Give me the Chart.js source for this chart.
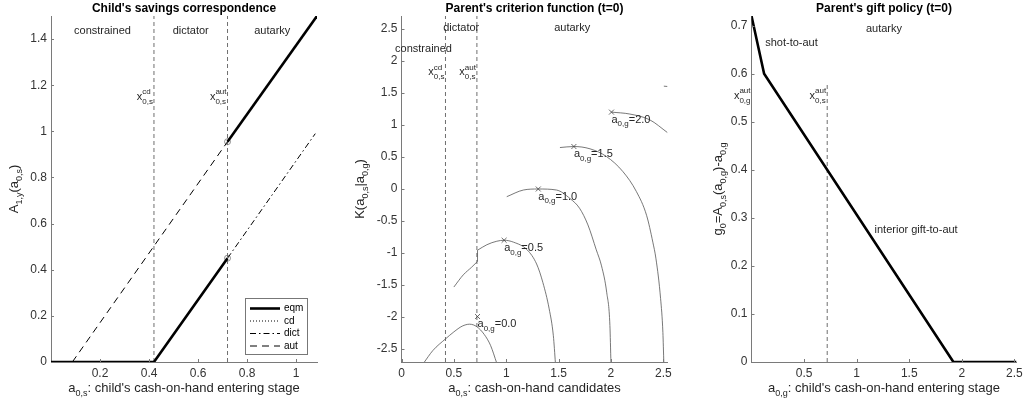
<!DOCTYPE html>
<html>
<head>
<meta charset="utf-8">
<script src="https://cdn.jsdelivr.net/npm/chart.js@4.4.0/dist/chart.umd.min.js"></script>
<style>
  html, body { margin: 0; padding: 0; background: #fff; }
  #wrap { position: relative; width: 1024px; height: 404px; overflow: hidden; }
  .panel { position: absolute; top: 0; height: 404px; }
</style>
</head>
<body>
<div id="wrap">
  <div class="panel" style="left:0;width:340px"><canvas id="c1" width="340" height="404"></canvas></div>
  <div class="panel" style="left:340px;width:340px"><canvas id="c2" width="340" height="404"></canvas></div>
  <div class="panel" style="left:680px;width:344px"><canvas id="c3" width="344" height="404"></canvas></div>
</div>
<script>
// ---------- data: child's savings correspondence ----------
const cutCd = 0.42;    // x^cd_{0,s}
const cutAut = 0.72;   // x^aut_{0,s}
const csEqmLowX = [0, 0.42, 0.72];
const csEqmLowY = [0, 0, 0.45];
const csEqmHighX = [0.72, 1.085];
const csEqmHighY = [0.955, 1.5];
const csCdX = [0, 0.42];
const csCdY = [0, 0];
const csDictX = [0.72, 1.078];
const csDictY = [0.45, 0.99];
const csAutX = [0.087, 0.72];
const csAutY = [0, 0.955];
const csCircX = [0.72, 0.72];
const csCircY = [0.45, 0.955];
const csXTicks = [0.2, 0.4, 0.6, 0.8, 1];
const csYTicks = [0, 0.2, 0.4, 0.6, 0.8, 1, 1.2, 1.4];

// ---------- data: parent's criterion function ----------
const k00X = [0.21, 0.30, 0.42, 0.50, 0.58, 0.65, 0.72, 0.79, 0.85, 0.91];
const k00Y = [-2.72, -2.52, -2.34, -2.23, -2.14, -2.11, -2.15, -2.27, -2.44, -2.72];
const k05aX = [0.50, 0.59, 0.67, 0.726];
const k05aY = [-1.53, -1.34, -1.22, -1.13];
const k05jX = [0.726, 0.726];
const k05jY = [-1.13, -0.955];
const k05bX = [0.726, 0.815, 0.91, 0.98, 1.07, 1.20, 1.29, 1.35, 1.41, 1.45, 1.47];
const k05bY = [-0.955, -0.87, -0.815, -0.80, -0.83, -0.95, -1.17, -1.46, -1.87, -2.29, -2.72];
const k10X = [1.005, 1.164, 1.306, 1.48, 1.61, 1.70, 1.78, 1.86, 1.91, 1.96, 1.99, 2.0];
const k10Y = [-0.12, -0.016, 0.0, -0.016, -0.15, -0.30, -0.56, -0.95, -1.20, -1.62, -2.13, -2.72];
const k15X = [1.513, 1.646, 1.80, 1.957, 2.115, 2.243, 2.34, 2.40, 2.43, 2.474, 2.496, 2.505];
const k15Y = [0.647, 0.663, 0.627, 0.507, 0.27, -0.04, -0.41, -0.83, -1.09, -1.71, -2.24, -2.72];
const k20X = [2.005, 2.18, 2.37, 2.54];
const k20Y = [1.20, 1.17, 1.08, 0.88];
const k25X = [2.505, 2.54];
const k25Y = [1.605, 1.60];
const kPeakX = [0.726, 0.98, 1.306, 1.646, 2.005];
const kPeakY = [-1.99, -0.80, 0.0, 0.663, 1.20];
const kPeakLabels = ['0.0', '0.5', '1.0', '1.5', '2.0'];
const kXTicks = [0, 0.5, 1, 1.5, 2, 2.5];
const kYTicks = [-2.5, -2, -1.5, -1, -0.5, 0, 0.5, 1, 1.5, 2, 2.5];

// ---------- data: parent's gift policy ----------
const giftX = [0, 0.12, 1.92, 2.52];
const giftY = [0.72, 0.6, 0, 0];
const giftCutX = [0.72, 0.72];
const giftCutY = [0, 0.577];
const gXTicks = [0.5, 1, 1.5, 2, 2.5];
const gYTicks = [0, 0.1, 0.2, 0.3, 0.4, 0.5, 0.6, 0.7];

// ---------- helpers ----------
const FONT = '"Liberation Sans", Arial, Helvetica, sans-serif';
const AXIS = '#7a7a7a';
const TXT = '#262626';

function pts(xs, ys) { return xs.map((x, i) => ({ x: x, y: ys[i] })); }

function line(xs, ys, extra) {
  return Object.assign({
    data: pts(xs, ys), borderColor: '#000', borderWidth: 1, pointRadius: 0,
    fill: false, tension: 0
  }, extra || {});
}

function parseRich(s) {
  const out = []; let i = 0, buf = '';
  while (i < s.length) {
    const c = s[i];
    if (c === '_' || c === '^') {
      if (buf) { out.push({ t: buf, k: 'n' }); buf = ''; }
      let t;
      if (s[i + 1] === '{') { const j = s.indexOf('}', i); t = s.slice(i + 2, j); i = j + 1; }
      else { t = s[i + 1]; i += 2; }
      out.push({ t: t, k: c === '_' ? 'sub' : 'sup' });
    } else { buf += c; i++; }
  }
  if (buf) out.push({ t: buf, k: 'n' });
  return out;
}

// draws text with _{sub} and ^{sup}, y is the middle of the normal text
function drawRich(ctx, s, x, y, size, align, color, bold) {
  const toks = parseRich(s);
  const sm = Math.round(size * 0.73);
  const fnt = sz => (bold ? 'bold ' : '') + sz + 'px ' + FONT;
  const w = (t, sz) => { ctx.font = fnt(sz); return ctx.measureText(t).width; };
  const items = []; let cx = 0, last = null;
  toks.forEach(tk => {
    if (tk.k === 'n') {
      items.push({ t: tk.t, x: cx, dy: 0, sz: size });
      cx += w(tk.t, size); last = null; return;
    }
    const tw = w(tk.t, sm);
    const dy = tk.k === 'sub' ? size * 0.42 : -size * 0.45;
    if (last && last.k !== tk.k) {
      items.push({ t: tk.t, x: last.x, dy: dy, sz: sm });
      cx = last.x + Math.max(last.w, tw); last = null;
    } else {
      items.push({ t: tk.t, x: cx, dy: dy, sz: sm });
      last = { k: tk.k, x: cx, w: tw }; cx += tw;
    }
  });
  const x0 = align === 'center' ? x - cx / 2 : align === 'right' ? x - cx : x;
  ctx.fillStyle = color; ctx.textAlign = 'left'; ctx.textBaseline = 'middle';
  items.forEach(it => { ctx.font = fnt(it.sz); ctx.fillText(it.t, x0 + it.x, y + it.dy); });
}

// titles, axis labels, inward ticks and text notes
function overlay(cfg) {
  return {
    id: 'overlay',
    afterDraw(chart) {
      const ctx = chart.ctx, a = chart.chartArea, xs = chart.scales.x, ys = chart.scales.y;
      ctx.save();
      ctx.strokeStyle = AXIS; ctx.lineWidth = 1;
      ctx.beginPath();
      xs.ticks.forEach(t => {
        const p = Math.round(xs.getPixelForValue(t.value)) + 0.5;
        ctx.moveTo(p, a.bottom); ctx.lineTo(p, a.bottom - 3);
      });
      ys.ticks.forEach(t => {
        const p = Math.round(ys.getPixelForValue(t.value)) + 0.5;
        ctx.moveTo(a.left, p); ctx.lineTo(a.left + 3, p);
      });
      ctx.stroke();

      drawRich(ctx, cfg.title, (a.left + a.right) / 2, 9, 12, 'center', '#000', true);
      drawRich(ctx, cfg.xTitle, (a.left + a.right) / 2, 388, 13, 'center', TXT);
      ctx.save();
      ctx.translate(cfg.yTitleX, (a.top + a.bottom) / 2);
      ctx.rotate(-Math.PI / 2);
      drawRich(ctx, cfg.yTitle, 0, 0, 13, 'center', TXT);
      ctx.restore();

      cfg.notes.forEach(n => {
        const px = xs.getPixelForValue(n.x) + (n.dx || 0);
        const py = ys.getPixelForValue(n.y) + (n.dy || 0);
        drawRich(ctx, n.s, px, py, 11, n.align || 'left', TXT);
      });
      if (cfg.legend) cfg.legend(ctx, a);
      ctx.restore();
    }
  };
}

function axis(min, max, ticks, fitFn) {
  return {
    type: 'linear', min: min, max: max,
    afterBuildTicks: s => { s.ticks = ticks.map(v => ({ value: v })); },
    afterFit: fitFn,
    grid: { display: true, drawOnChartArea: false, drawTicks: false },
    border: { display: true, color: AXIS, width: 1 },
    ticks: {
      autoSkip: false, maxRotation: 0, padding: 4, color: '#333',
      font: { family: FONT, size: 12 },
      callback: v => String(Math.round(v * 100) / 100)
    }
  };
}

function makePanel(id, width, box, xr, yr, datasets, cfg) {
  new Chart(document.getElementById(id), {
    type: 'line',
    data: { datasets: datasets },
    options: {
      responsive: false, animation: false, devicePixelRatio: 1,
      layout: { padding: { top: box.top, right: width - box.right, left: 0, bottom: 0 } },
      plugins: { legend: { display: false }, tooltip: { enabled: false } },
      elements: { point: { radius: 0 } },
      scales: {
        x: axis(xr[0], xr[1], xr[2], s => { s.height = 404 - box.bottom; s.paddingLeft = 0; s.paddingRight = 0; }),
        y: axis(yr[0], yr[1], yr[2], s => { s.width = box.left; s.paddingTop = 0; s.paddingBottom = 0; })
      }
    },
    plugins: [overlay(cfg)]
  });
}

const cutStyle = { borderColor: '#6f6f6f', borderWidth: 1, borderDash: [4, 3] };

// ---------- panel 1 ----------
makePanel('c1', 340, { left: 51, right: 317, top: 16, bottom: 362 },
  [0, 1.085, csXTicks], [0, 1.5, csYTicks],
  [
    line(csEqmLowX, csEqmLowY, { borderWidth: 2.6 }),
    line(csEqmHighX, csEqmHighY, { borderWidth: 2.6 }),
    line(csCdX, csCdY, { borderDash: [1, 2] }),
    line(csDictX, csDictY, { borderDash: [6, 3, 1.5, 3] }),
    line(csAutX, csAutY, { borderDash: [7, 5] }),
    { data: pts(csCircX, csCircY), showLine: false, pointRadius: 3, pointStyle: 'circle',
      pointBorderColor: '#777', pointBackgroundColor: 'rgba(0,0,0,0)', pointBorderWidth: 0.8 },
    line([cutCd, cutCd], [0, 1.5], cutStyle),
    line([cutAut, cutAut], [0, 1.5], cutStyle)
  ],
  {
    title: "Child's savings correspondence",
    xTitle: "a_{0,s}: child's cash-on-hand entering stage",
    yTitle: 'A_{1,y}(a_{0,s})', yTitleX: 14,
    notes: [
      { s: 'constrained', x: 0.21, y: 1.435, align: 'center' },
      { s: 'dictator', x: 0.57, y: 1.435, align: 'center' },
      { s: 'autarky', x: 0.9025, y: 1.435, align: 'center' },
      { s: 'x^{cd}_{0,s}', x: cutCd, y: 1.15, align: 'right', dx: -1 },
      { s: 'x^{aut}_{0,s}', x: cutAut, y: 1.15, align: 'right', dx: -1 }
    ],
    legend: (ctx, a) => {
      const bx = a.right - 72, by = a.bottom - 64;
      ctx.fillStyle = '#fff'; ctx.fillRect(bx + 0.5, by + 0.5, 62, 56);
      ctx.strokeStyle = '#777'; ctx.lineWidth = 1; ctx.setLineDash([]);
      ctx.strokeRect(bx + 0.5, by + 0.5, 62, 56);
      const items = [
        ['eqm', 2.6, []], ['cd', 1, [1, 2]], ['dict', 1, [6, 3, 1.5, 3]], ['aut', 1, [7, 5]]
      ];
      items.forEach((it, i) => {
        const yy = by + 10.5 + i * 12.5;
        ctx.strokeStyle = '#000'; ctx.lineWidth = it[1]; ctx.setLineDash(it[2]);
        ctx.beginPath(); ctx.moveTo(bx + 5, yy); ctx.lineTo(bx + 35, yy); ctx.stroke();
        ctx.setLineDash([]);
        ctx.fillStyle = '#000'; ctx.font = '10px ' + FONT; ctx.textAlign = 'left'; ctx.textBaseline = 'middle';
        ctx.fillText(it[0], bx + 39, yy);
      });
    }
  });

// ---------- panel 2 ----------
const kStyle = { borderColor: '#555', borderWidth: 0.8, cubicInterpolationMode: 'monotone' };
makePanel('c2', 340, { left: 61.5, right: 327.5, top: 16, bottom: 362 },
  [0, 2.54, kXTicks], [-2.7, 2.7, kYTicks],
  [
    { data: pts(kPeakX, kPeakY), showLine: false, pointRadius: 3.5, pointStyle: 'crossRot',
      pointBorderColor: '#444', pointBorderWidth: 0.8 },
    line(k00X, k00Y, kStyle),
    line(k05aX, k05aY, kStyle),
    line(k05jX, k05jY, { borderColor: '#555', borderWidth: 0.8 }),
    line(k05bX, k05bY, kStyle),
    line(k10X, k10Y, kStyle),
    line(k15X, k15Y, kStyle),
    line(k20X, k20Y, kStyle),
    line(k25X, k25Y, { borderColor: '#555', borderWidth: 0.8 }),
    line([cutCd, cutCd], [-2.7, 2.7], cutStyle),
    line([cutAut, cutAut], [-2.7, 2.7], cutStyle)
  ],
  {
    title: "Parent's criterion function (t=0)",
    xTitle: 'a_{0,s}: cash-on-hand candidates',
    yTitle: 'K(a_{0,s}|a_{0,g})', yTitleX: 20.5,
    notes: [
      { s: 'constrained', x: 0.21, y: 2.18, align: 'center' },
      { s: 'dictator', x: 0.57, y: 2.51, align: 'center' },
      { s: 'autarky', x: 1.63, y: 2.51, align: 'center' },
      { s: 'x^{cd}_{0,s}', x: cutCd, y: 1.82, align: 'right', dx: -1 },
      { s: 'x^{aut}_{0,s}', x: cutAut, y: 1.82, align: 'right', dx: -1 }
    ].concat(kPeakLabels.map((l, i) => ({ s: 'a_{0,g}=' + l, x: kPeakX[i], y: kPeakY[i], dy: 7.5 })))
  });

// ---------- panel 3 ----------
makePanel('c3', 344, { left: 71.5, right: 336.5, top: 16, bottom: 362 },
  [0, 2.52, gXTicks], [0, 0.72, gYTicks],
  [
    line(giftX, giftY, { borderWidth: 2.6 }),
    line(giftCutX, giftCutY, cutStyle)
  ],
  {
    title: "Parent's gift policy (t=0)",
    xTitle: "a_{0,g}: child's cash-on-hand entering stage",
    yTitle: 'g_{0}=A_{0,s}(a_{0,g})-a_{0,g}', yTitleX: 38.5,
    notes: [
      { s: 'autarky', x: 1.26, y: 0.692, align: 'center' },
      { s: 'shot-to-aut', x: 0.13, y: 0.664 },
      { s: 'x^{aut}_{0,g}', x: 0, y: 0.554, align: 'right', dx: -1 },
      { s: 'x^{aut}_{0,s}', x: 0.72, y: 0.554, align: 'right', dx: -1 },
      { s: 'interior gift-to-aut', x: 1.17, y: 0.275 }
    ]
  });
</script>
</body>
</html>
